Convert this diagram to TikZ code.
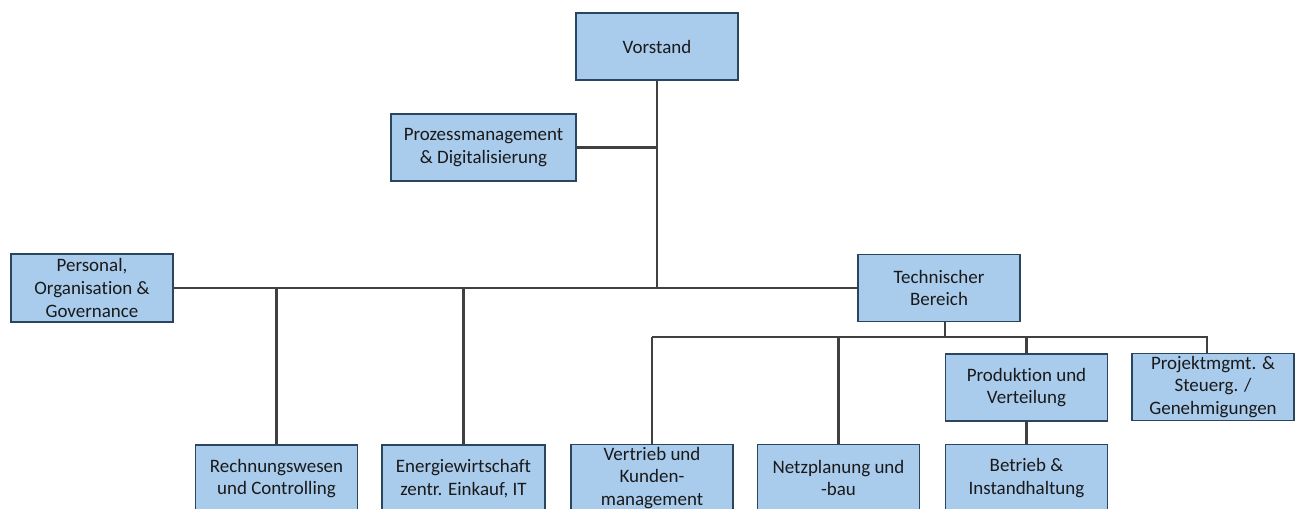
\documentclass[tikz,border=0pt]{standalone}
\usepackage{fontspec}
\setmainfont{Carlito}[Ligatures=NoCommon]
\usepackage{xcolor}
\usepackage{tikz}
\usetikzlibrary{positioning}

\definecolor{boxblue}{HTML}{A9CBEC}
\definecolor{boxedge}{HTML}{2A4560}
\definecolor{wire}{HTML}{404040}
\definecolor{ink}{HTML}{1A1A1A}

\begin{document}
\begin{tikzpicture}[x=0.02cm, y=-0.02cm,
  unit/.style={draw=boxedge, fill=boxblue, line width=1.1pt, minimum width=3.24cm,
    minimum height=1.34cm, align=center, text=ink, inner sep=1pt,
    font=\fontsize{10.8}{13}\selectfont},
  link/.style={draw=wire, line width=1.2pt}]
\useasboundingbox (0,0) rectangle (1301,508);
\clip (0,0) rectangle (1301,508);
% top level
\node[unit] (vorstand) at (657,46.5) {Vorstand};
\node[unit, minimum width=3.7cm] (prozess) at (483.5,147.5) {Prozessmanagement\\\& Digitalisierung};
% second level
\node[unit, minimum height=1.36cm] (personal) at (92,288) {Personal,\\Organisation \&\\Governance};
\node[unit] (technik) at (939,288) {Technischer\\Bereich};
% kaufmaennische Bereiche
\node[unit] (rechnung) at (276.5,478.5) {Rechnungswesen\\und Controlling};
\node[unit, minimum width=3.26cm] (energie) at (463.5,478.5) {Energiewirtschaft\\zentr. Einkauf, IT};
% technische Bereiche
\node[unit] (vertrieb) at (652,478) {Vertrieb und\\Kunden-\\management};
\node[unit] (netz) at (838.5,478) {Netzplanung und\\-bau};
\node[unit] (produktion) at (1026.5,387.5) {Produktion und\\Verteilung};
\node[unit] (projekt) at (1213,387) {Projektmgmt. \&\\Steuerg. /\\Genehmigungen};
\node[unit] (betrieb) at (1026.5,478) {Betrieb \&\\Instandhaltung};
\coordinate (tbus) at (945,337);
% connectors
\draw[link] (vorstand.south) -- (vorstand.south |- personal.east);
\draw[link] (prozess.east) -- (prozess.east -| vorstand.south);
\draw[link] (personal.east) -- (technik.west);
\draw[link] (rechnung.north |- personal.east) -- (rechnung.north);
\draw[link] (energie.north |- personal.east) -- (energie.north);
\draw[link] (tbus |- technik.south) -- (tbus);
\draw[link] (vertrieb.north |- tbus) -- ([xshift=-3.4pt]projekt.north |- tbus) -- ([xshift=-3.4pt]projekt.north);
\draw[link] (vertrieb.north |- tbus) -- (vertrieb.north);
\draw[link] (netz.north |- tbus) -- (netz.north);
\draw[link] (produktion.north |- tbus) -- (produktion.north);
\draw[link] (produktion.south) -- (betrieb.north);
\end{tikzpicture}
\end{document}
